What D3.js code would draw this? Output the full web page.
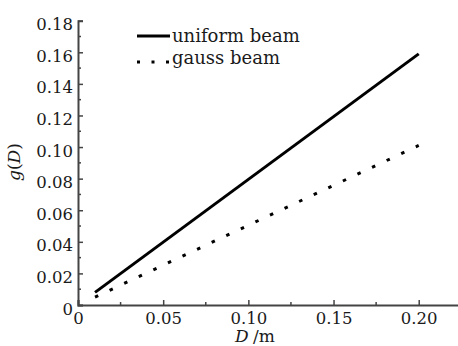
<!DOCTYPE html>
<html>
<head>
<meta charset="utf-8">
<script src="https://cdn.jsdelivr.net/npm/d3@7"></script>
<style>
  html, body { margin: 0; padding: 0; background: #fff; }
  svg text { font-family: "DejaVu Serif", serif; fill: #1a1a1a; }
</style>
</head>
<body>
<svg id="chart" width="458" height="346"></svg>
<script>
// Aperture size D (m) and the two beam profiles g(D)
const diameters = [0.01, 0.20];
const uniformBeam = [0.008, 0.159];
const gaussBeam = [0.005, 0.101];

const xTicks = [0, 0.05, 0.10, 0.15, 0.20];
const xTickLabels = ["0", "0.05", "0.10", "0.15", "0.20"];
const xMinor = [0.025, 0.075, 0.125, 0.175];
const yTicks = [0, 0.02, 0.04, 0.06, 0.08, 0.10, 0.12, 0.14, 0.16, 0.18];
const yTickLabels = ["0", "0.02", "0.04", "0.06", "0.08", "0.10", "0.12", "0.14", "0.16", "0.18"];
const yMinor = [0.01, 0.03, 0.05, 0.07, 0.09, 0.11, 0.13, 0.15, 0.17];

const svg = d3.select("#chart");
const axisColor = "#444";
const tickFont = 16.5;
const legendFont = 18;
const titleFont = 17;

const x = d3.scaleLinear().domain([0, 0.224]).range([78, 459.6]);
const y = d3.scaleLinear().domain([0, 0.18]).range([305, 20.7]);

// x axis: ticks point into the plot
const gx = svg.append("g").attr("transform", `translate(0,${y(0)})`);
gx.call(d3.axisBottom(x).tickValues(xTicks).tickSize(-5).tickFormat((d, i) => xTickLabels[i]).tickPadding(7));
gx.append("g").selectAll("line").data(xMinor).join("line")
  .attr("x1", d => x(d)).attr("x2", d => x(d)).attr("y1", 0).attr("y2", -3)
  .attr("stroke", axisColor).attr("stroke-width", 1.5);

// y axis
const gy = svg.append("g").attr("transform", `translate(${x(0)},0)`);
gy.call(d3.axisLeft(y).tickValues(yTicks).tickSize(-5).tickFormat((d, i) => yTickLabels[i]).tickPadding(5));
gy.append("g").selectAll("line").data(yMinor).join("line")
  .attr("y1", d => y(d)).attr("y2", d => y(d)).attr("x1", 0).attr("x2", 3)
  .attr("stroke", axisColor).attr("stroke-width", 1.5);

[gx, gy].forEach(g => {
  g.attr("font-family", null).attr("font-size", null);
  g.select(".domain").attr("stroke", axisColor).attr("stroke-width", 2);
  g.selectAll(".tick line").attr("stroke", axisColor).attr("stroke-width", 1.5);
  g.selectAll(".tick text").attr("font-size", tickFont).attr("fill", "#1a1a1a");
});
gy.selectAll(".tick text").attr("dy", "0.55em");
gx.selectAll(".tick text").attr("dy", "0.72em");

// series lines
const line = d3.line().x(d => x(d[0])).y(d => y(d[1]));
svg.append("path")
  .datum(diameters.map((d, i) => [d, uniformBeam[i]]))
  .attr("d", line).attr("fill", "none")
  .attr("stroke", "#000").attr("stroke-width", 3);
svg.append("path")
  .datum(diameters.map((d, i) => [d, gaussBeam[i]]))
  .attr("d", line).attr("fill", "none")
  .attr("stroke", "#000").attr("stroke-width", 3)
  .attr("stroke-dasharray", "3.5,12.6");

// legend
const legend = svg.append("g");
legend.append("line").attr("x1", 137).attr("x2", 170).attr("y1", 36).attr("y2", 36)
  .attr("stroke", "#000").attr("stroke-width", 3);
legend.append("line").attr("x1", 137).attr("x2", 171).attr("y1", 62).attr("y2", 62)
  .attr("stroke", "#000").attr("stroke-width", 3).attr("stroke-dasharray", "3,11.5");
legend.append("text").attr("x", 172).attr("y", 42).attr("font-size", legendFont).text("uniform beam");
legend.append("text").attr("x", 172).attr("y", 64).attr("font-size", legendFont).text("gauss beam");

// axis titles
const yTitle = svg.append("text")
  .attr("transform", "translate(20,162) rotate(-90)")
  .attr("text-anchor", "middle").attr("font-size", titleFont);
yTitle.append("tspan").attr("font-style", "italic").text("g");
yTitle.append("tspan").text("(");
yTitle.append("tspan").attr("font-style", "italic").text("D");
yTitle.append("tspan").text(")");

svg.append("text").attr("x", 235).attr("y", 342)
  .attr("font-size", titleFont).attr("font-style", "italic").text("D");
svg.append("text").attr("x", 253).attr("y", 342)
  .attr("font-size", titleFont).text("/m");
</script>
</body>
</html>
